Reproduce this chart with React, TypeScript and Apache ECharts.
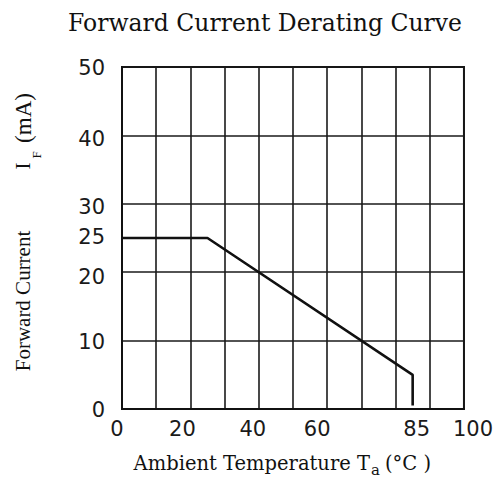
import React, { useEffect, useRef } from "react";
import * as echarts from "echarts";

// Derating curve: ambient temperature (°C) vs maximum forward current (mA)
const temperatures = [0, 25, 85, 85];
const currents = [25, 25, 5, 0.5];
const xTickLabels = [0, 20, 40, 60, 85, 100];
const yTickLabels = [0, 10, 20, 25, 30, 40, 50];

const SERIF = '"DejaVu Serif", "Liberation Serif", serif';
const SERIF_NARROW = '"Liberation Serif", "DejaVu Serif", serif';
const SANS = '"DejaVu Sans", "Liberation Sans", sans-serif';
const INK = "#111";

// small hand-placed nudges of individual tick labels (px)
const xLabelShift: Record<number, number> = { 0: -5, 20: -8, 40: -6, 60: -10, 85: 4, 100: 9 };
const yLabelShift: Record<number, number> = { 0: 1, 10: 1, 20: 5, 25: -1, 30: 3, 40: 4, 50: 1 };

function textEl(x: number, y: number, text: string, font: string, align: string, vAlign: string, rotation = 0) {
  return {
    type: "text",
    x,
    y,
    rotation,
    silent: true,
    style: {
      text,
      font,
      fill: INK,
      align,
      verticalAlign: vAlign,
      textAlign: align,
      textVerticalAlign: vAlign,
    },
  };
}

export default function App() {
  const ref = useRef<HTMLDivElement>(null);

  useEffect(() => {
    if (!ref.current) return;
    const chart = echarts.init(ref.current, undefined, { renderer: "svg" });

    const xRich: Record<string, any> = {};
    xTickLabels.forEach((v) => {
      const d = xLabelShift[v] || 0;
      xRich["x" + v] = { padding: d < 0 ? [0, -2 * d, 0, 0] : [0, 0, 0, 2 * d] };
    });
    const yRich: Record<string, any> = {};
    yTickLabels.forEach((v) => {
      const d = yLabelShift[v] || 0;
      yRich["y" + v] = { padding: d > 0 ? [2 * d, 0, 0, 0] : [0, 0, -2 * d, 0] };
    });

    const labelStyle = { fontFamily: SANS, fontSize: 21, color: "#1a1a1a" };

    chart.setOption({
      animation: false,
      backgroundColor: "#fff",
      grid: {
        left: 122,
        right: 31,
        top: 67,
        bottom: 76,
        show: true,
        borderColor: INK,
        borderWidth: 2,
      },
      xAxis: {
        type: "value",
        min: 0,
        max: 100,
        interval: 10,
        axisLine: { show: true, lineStyle: { color: INK, width: 2 } },
        axisTick: { show: false },
        splitLine: { show: true, lineStyle: { color: "#1a1a1a", width: 1.6 } },
        axisLabel: {
          ...labelStyle,
          margin: 9,
          customValues: xTickLabels,
          formatter: (v: number) => `{x${v}|${v}}`,
          rich: xRich,
        },
      },
      yAxis: {
        type: "value",
        min: 0,
        max: 50,
        interval: 10,
        axisLine: { show: true, lineStyle: { color: INK, width: 2 } },
        axisTick: { show: false },
        splitLine: { show: true, lineStyle: { color: "#1a1a1a", width: 1.6 } },
        axisLabel: {
          ...labelStyle,
          margin: 17,
          customValues: yTickLabels,
          formatter: (v: number) => `{y${v}|${v}}`,
          rich: yRich,
        },
      },
      series: [
        {
          type: "line",
          data: temperatures.map((t, i) => [t, currents[i]]),
          symbol: "none",
          lineStyle: { color: INK, width: 2.6 },
          z: 5,
        },
      ],
      graphic: [
        textEl(265, 23, "Forward Current Derating Curve", `23.5px ${SERIF}`, "center", "middle"),
        // x-axis title: Ambient Temperature T_a (°C)
        textEl(370, 463, "Ambient Temperature T", `19.5px ${SERIF}`, "right", "middle"),
        textEl(371, 470, "a", `15px ${SERIF}`, "left", "middle"),
        textEl(385, 463, "(°C )", `19.5px ${SERIF}`, "left", "middle"),
        // y-axis title: Forward Current  I_F (mA)
        textEl(23, 301, "Forward Current", `21px ${SERIF_NARROW}`, "center", "middle", Math.PI / 2),
        textEl(23, 166, "I", `21px ${SERIF_NARROW}`, "center", "middle", Math.PI / 2),
        textEl(36, 155, "F", `13px ${SERIF_NARROW}`, "center", "middle", Math.PI / 2),
        textEl(23, 118, "(mA)", `23px ${SERIF_NARROW}`, "center", "middle", Math.PI / 2),
      ],
    });

    return () => chart.dispose();
  }, []);

  return (
    <div
      ref={ref}
      style={{ position: "absolute", left: 0, top: 0, width: 496, height: 485 }}
    />
  );
}
